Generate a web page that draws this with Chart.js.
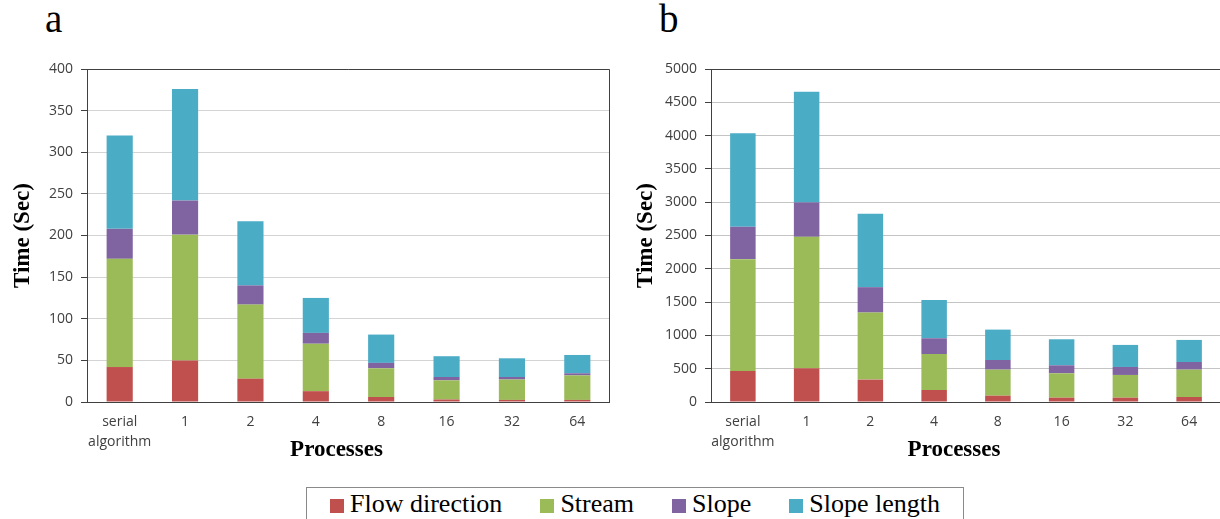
<!DOCTYPE html>
<html>
<head>
<meta charset="utf-8">
<script src="https://cdn.jsdelivr.net/npm/chart.js@4/dist/chart.umd.min.js"></script>
<style>
  html, body { margin: 0; padding: 0; background: #fff; width: 1220px; height: 519px; overflow: hidden; }
  .panel { position: absolute; top: 0; height: 470px; }
  #panelA { left: 0; width: 610px; }
  #panelB { left: 620px; width: 601px; }
  .tag { position: absolute; top: -4px; font-family: "Liberation Serif", serif; font-size: 39px; color: #000; }
  #legend {
    position: absolute; left: 306px; top: 487px; width: 656px; height: 40px;
    border: 1px solid #8a8a8a; display: flex; justify-content: center; gap: 38px;
    font-family: "Liberation Serif", "Times New Roman", serif; font-size: 26px; color: #000; padding-top: 1px;
  }
  #legend .item { display: flex; align-items: center; height: 30px; }
  #legend .sw { width: 14px; height: 14px; margin-right: 6px; margin-top: 3px; }
</style>
</head>
<body>
<div class="tag" style="left:45px">a</div>
<div class="tag" style="left:659px">b</div>
<div class="panel" id="panelA"><canvas id="chartA"></canvas></div>
<div class="panel" id="panelB"><canvas id="chartB"></canvas></div>
<div id="legend"></div>

<script>
// Categorías y series
const categories = [['serial', 'algorithm'], '1', '2', '4', '8', '16', '32', '64'];
const seriesNames = ['Flow direction', 'Stream', 'Slope', 'Slope length'];
const seriesColors = ['#C0504D', '#9BBB59', '#8064A2', '#4BACC6'];

// Panel a (segundos)
const flowA   = [42, 50, 28, 13, 6, 3, 2.5, 2.5];
const streamA = [130, 151, 89, 57, 34.5, 23, 24.5, 29.5];
const slopeA  = [36, 41, 23, 13, 6.5, 4, 3, 2.5];
const lengthA = [112, 134, 77, 42, 34, 25, 22.5, 22];

// Panel b (segundos)
const flowB   = [466, 506, 336, 180, 95, 65, 65, 75];
const streamB = [1679, 1974, 1007, 541, 391, 366, 341, 411];
const slopeB  = [486, 517, 381, 236, 145, 120, 120, 115];
const lengthB = [1403, 1663, 1102, 576, 456, 391, 331, 331];

// Marco del área de trazado (arriba y derecha) + título del eje x
const frame = {
  id: 'frame',
  afterDraw(chart) {
    const a = chart.chartArea, ctx = chart.ctx;
    ctx.save();
    ctx.strokeStyle = '#404040';
    ctx.lineWidth = 1;
    ctx.beginPath();
    ctx.moveTo(a.left, a.top + 0.5);
    ctx.lineTo(a.right - 0.5, a.top + 0.5);
    ctx.lineTo(a.right - 0.5, a.bottom);
    ctx.stroke();

    // "Processes" va un poco a la izquierda del centro, como en el original
    ctx.fillStyle = '#000';
    ctx.font = 'bold 23px "Liberation Serif"';
    ctx.textAlign = 'center';
    ctx.textBaseline = 'middle';
    ctx.fillText('Processes', (a.left + a.right) / 2 - 12, a.bottom + 48);
    ctx.restore();
  }
};

const tickFont = { family: 'Open Sans', size: 14, lineHeight: 1.45 };

function makeChart(id, series, yMax, yStep, yAxisWidth, titlePad, gridColor) {
  return new Chart(document.getElementById(id), {
    type: 'bar',
    data: {
      labels: categories,
      datasets: series.map((d, i) => ({
        label: seriesNames[i],
        data: d,
        backgroundColor: seriesColors[i],
        borderWidth: 0,
        barPercentage: 0.4,
        categoryPercentage: 1
      }))
    },
    options: {
      responsive: true,
      maintainAspectRatio: false,
      animation: false,
      layout: { padding: { top: 69, right: 0, bottom: 0, left: 0 } },
      plugins: { legend: { display: false }, tooltip: { enabled: false } },
      scales: {
        x: {
          stacked: true,
          grid: { display: false, drawTicks: false },
          border: { display: true, color: '#404040' },
          ticks: { color: '#404040', font: tickFont, padding: 10, maxRotation: 0, autoSkip: false },
          afterFit: s => { s.height = 68; }
        },
        y: {
          stacked: true,
          min: 0, max: yMax,
          grid: { color: gridColor, tickColor: '#404040', tickLength: 6 },
          border: { display: true, color: '#404040' },
          ticks: { stepSize: yStep, color: '#404040', font: { family: 'Open Sans', size: 14 }, padding: 8, callback: v => String(v) },
          title: { display: true, text: 'Time (Sec)', color: '#000', font: { family: 'Liberation Serif', size: 23, weight: 'bold' }, padding: { top: titlePad, bottom: 0 } },
          afterFit: s => { s.width = yAxisWidth; }
        }
      }
    },
    plugins: [frame]
  });
}

makeChart('chartA', [flowA, streamA, slopeA, lengthA], 400, 50, 87, 9, '#d4d4d4');
makeChart('chartB', [flowB, streamB, slopeB, lengthB], 5000, 500, 91, 12, '#c4c4c4');

// Leyenda compartida
const legend = document.getElementById('legend');
seriesNames.forEach((name, i) => {
  const item = document.createElement('div');
  item.className = 'item';
  item.innerHTML = `<span class="sw" style="background:${seriesColors[i]}"></span><span>${name}</span>`;
  legend.appendChild(item);
});
</script>
</body>
</html>
